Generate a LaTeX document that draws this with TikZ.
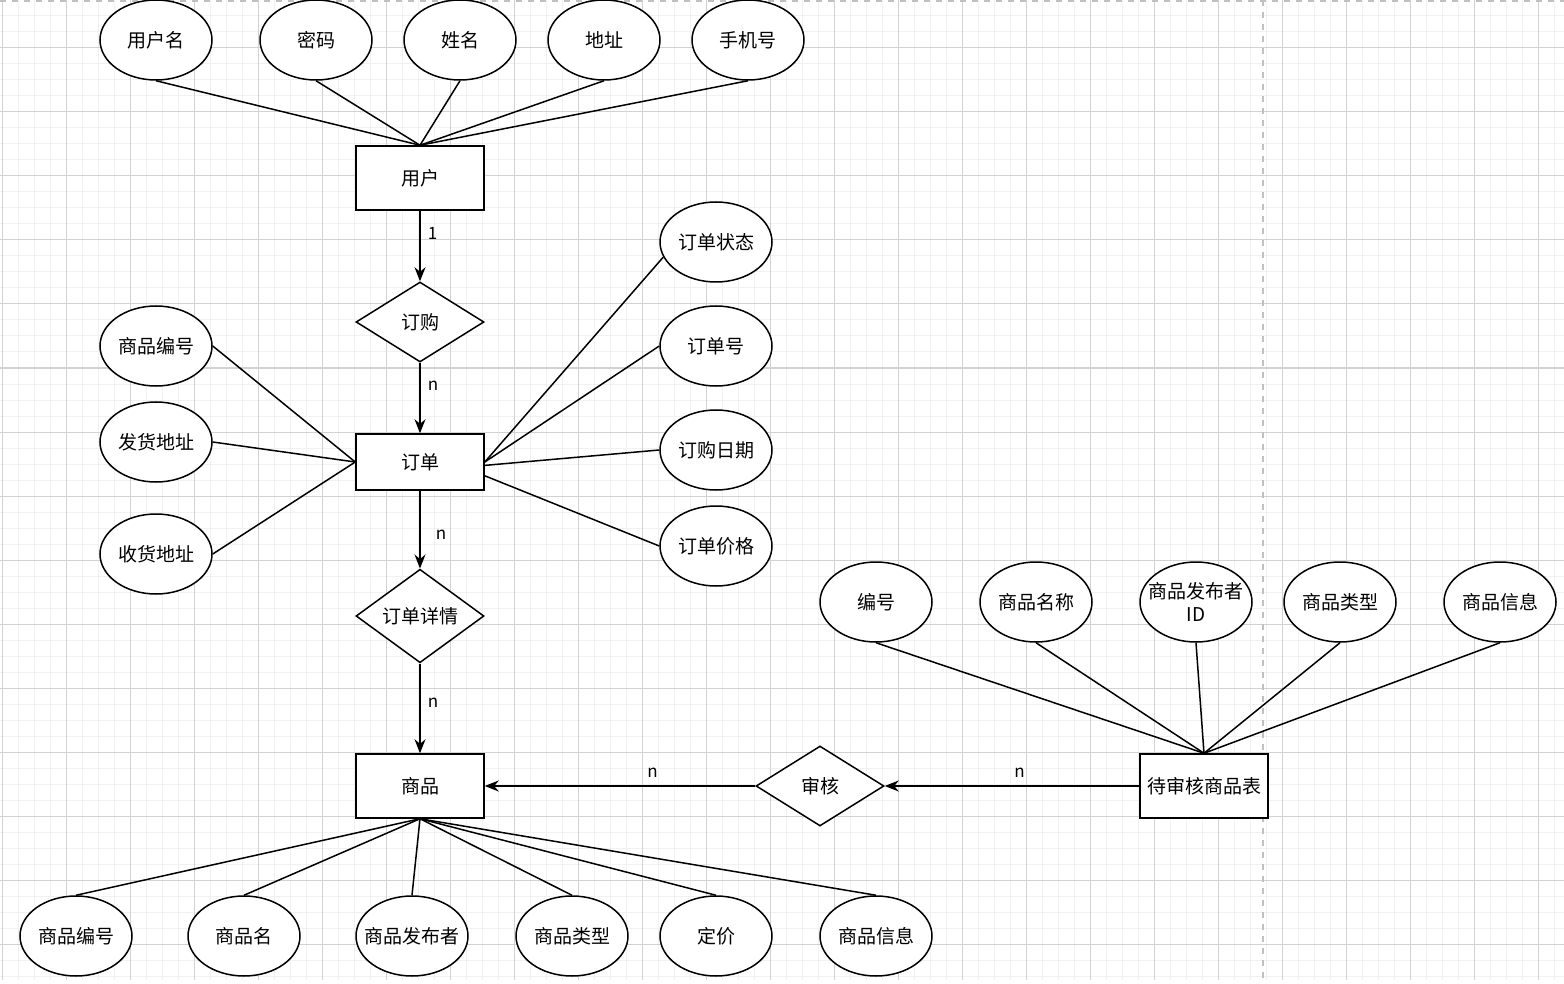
\documentclass[tikz,border=0pt]{standalone}
\usepackage{fontspec}
\setmainfont{Noto Sans CJK SC}
\usetikzlibrary{shapes.geometric,arrows.meta}
\definecolor{minorg}{HTML}{F1F1F1}
\definecolor{majorg}{HTML}{D2D2D2}
\definecolor{pageg}{HTML}{C0C0C0}
\begin{document}
\begin{tikzpicture}[x=1pt,y=-1pt,
  every node/.style={font=\fontsize{19}{22}\selectfont},
  line/.style={line width=1.5pt, black},
  arr/.style={line width=1.5pt, black, -{Stealth[length=14pt,width=11pt]}},
  ent/.style={draw, line width=1.5pt, rectangle, minimum width=128pt, minimum height=64pt, inner sep=0pt, fill=white},
  rel/.style={draw, line width=1.5pt, diamond, minimum width=128pt, minimum height=80pt, inner sep=0pt, fill=white},
  attr/.style={draw, line width=1.5pt, ellipse, minimum width=112pt, minimum height=80pt, inner sep=0pt, fill=white},
  lab/.style={font=\fontsize{17}{20}\selectfont, inner sep=1pt}
]
\useasboundingbox (0,0) rectangle (1564,984);
\fill[white] (0,0) rectangle (1564,984);
% grid
\foreach \x in {2,18,...,1564} \draw[minorg, line width=1pt] (\x,0) -- (\x,980);
\foreach \y in {0,16,...,980} \draw[minorg, line width=1pt] (0,\y) -- (1564,\y);
\foreach \x in {2,66,...,1564} \draw[majorg, line width=1pt] (\x,0) -- (\x,980);
\foreach \y in {48,112,...,980} \draw[majorg, line width=1pt] (0,\y) -- (1564,\y);
\draw[pageg, line width=1.5pt, dash pattern=on 6pt off 6pt] (1263,0) -- (1263,984);
\draw[pageg, line width=1.5pt, dash pattern=on 6pt off 6pt] (0,1) -- (1564,1);

% entities
\node[ent] (user) at (420,178) {用户};
\node[ent, minimum height=56pt] (order) at (420,462) {订单};
\node[ent] (goods) at (420,786) {商品};
\node[ent] (pend) at (1204,786) {待审核商品表};

% relations
\node[rel] (buy) at (420,322) {订购};
\node[rel, minimum height=76pt] (detail) at (420,616) {订单详情};
\node[rel] (audit) at (820,786) {审核};

% user attributes
\node[attr, label={center:用户名}] (ua1) at (156,40) {};
\node[attr, label={center:密码}] (ua2) at (316,40) {};
\node[attr, label={center:姓名}] (ua3) at (460,40) {};
\node[attr, label={center:地址}] (ua4) at (604,40) {};
\node[attr, label={center:手机号}] (ua5) at (748,40) {};

% order attributes
\node[attr, label={center:商品编号}] (oa1) at (156,346) {};
\node[attr, label={center:发货地址}] (oa2) at (156,442) {};
\node[attr, label={center:收货地址}] (oa3) at (156,554) {};
\node[attr, label={center:订单状态}] (oa4) at (716,242) {};
\node[attr, label={center:订单号}] (oa5) at (716,346) {};
\node[attr, label={center:订购日期}] (oa6) at (716,450) {};
\node[attr, label={center:订单价格}] (oa7) at (716,546) {};

% goods attributes
\node[attr, label={center:商品编号}] (ga1) at (76,936) {};
\node[attr, label={center:商品名}] (ga2) at (244,936) {};
\node[attr, label={center:商品发布者}] (ga3) at (412,936) {};
\node[attr, label={center:商品类型}] (ga4) at (572,936) {};
\node[attr, label={center:定价}] (ga5) at (716,936) {};
\node[attr, label={center:商品信息}] (ga6) at (876,936) {};

% pending attributes
\node[attr, label={center:编号}] (pa1) at (876,602) {};
\node[attr, label={center:商品名称}] (pa2) at (1036,602) {};
\node[attr, label={[align=center, font=\fontsize{19}{23}\selectfont]center:商品发布者\\ID}] (pa3) at (1196,602) {};
\node[attr, label={center:商品类型}] (pa4) at (1340,602) {};
\node[attr, label={center:商品信息}] (pa5) at (1500,602) {};

% attribute lines
\foreach \a in {ua1,ua2,ua3,ua4,ua5} \draw[line] (\a.south) -- (user.north);
\draw[line] (oa1.east) -- (order.west);
\draw[line] (oa2.east) -- (order.west);
\draw[line] (oa3.east) -- (order.west);
\draw[line] (oa4.196) -- (order.east);
\draw[line] (oa5.west) -- (order.east);
\draw[line] (oa6.west) -- (order.-3);
\draw[line] (oa7.west) -- (order.-12);
\foreach \a in {ga1,ga2,ga3,ga4,ga5,ga6} \draw[line] (\a.north) -- (goods.south);
\foreach \a in {pa1,pa2,pa3,pa4,pa5} \draw[line] (\a.south) -- (pend.north);

% relationship arrows
\draw[arr] (user.south) -- node[lab, pos=0.32, right=6pt] {1} (buy.north);
\draw[arr] (buy.south) -- node[lab, pos=0.33, right=6pt] {n} (order.north);
\draw[arr] (order.south) -- node[lab, pos=0.57, right=14pt] {n} (detail.north);
\draw[arr] (detail.south) -- node[lab, pos=0.44, right=6pt] {n} (goods.north);
\draw[arr] (audit.west) -- node[lab, pos=0.38, above=7pt] {n} (goods.east);
\draw[arr] (pend.west) -- node[lab, pos=0.47, above=7pt] {n} (audit.east);
\end{tikzpicture}
\end{document}
